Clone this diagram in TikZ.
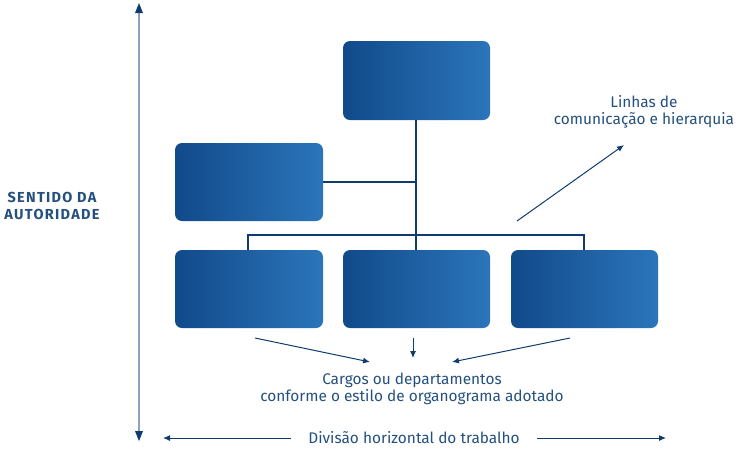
\documentclass[tikz,border=0pt]{standalone}
\usepackage{fontspec}
\setmainfont{Fira Sans}
\usetikzlibrary{arrows.meta}
\definecolor{boxL}{HTML}{114A8A}
\definecolor{boxR}{HTML}{2B75BA}
\definecolor{navy}{HTML}{0E3C6E}
\definecolor{txt}{HTML}{24507F}
\definecolor{axis}{HTML}{8AA4C0}
\tikzset{
  orgbox/.style={rounded corners=7pt, left color=boxL, right color=boxR, draw=none},
  conn/.style={draw=navy, line width=2.6pt},
  lbl/.style={text=txt, font=\fontsize{15.4}{17}\selectfont, align=center, inner sep=0pt},
  thinarrow/.style={draw=navy, line width=1pt, -{Latex[length=7pt,width=6pt]}},
}
\begin{document}
\begin{tikzpicture}[x=1pt,y=-1pt]
\useasboundingbox (0,0) rectangle (739,451);
% boxes
\path[orgbox] (343,41) rectangle (490,120);
\path[orgbox] (175,143) rectangle (323,221);
\path[orgbox] (175,250) rectangle (323,328);
\path[orgbox] (343,250) rectangle (490,328);
\path[orgbox] (511,250) rectangle (658,328);
\coordinate (topb) at (416,120);
\coordinate (midb) at (416,250);
\coordinate (lb) at (323,182);
\coordinate (lj) at (416,182);
\coordinate (hl) at (248,235);
\coordinate (hr) at (584,235);
\coordinate (b1) at (248,250);
\coordinate (b3) at (584,250);
% connectors
\draw[conn] (topb) -- (midb);
\draw[conn] (lb) -- (lj);
\draw[conn, line cap=butt] (b1) -- (hl) -- (hr) -- (b3);
% axes
\coordinate (vb) at (139,441);
\coordinate (vt) at (139,3);
\draw[draw=axis, line width=1.6pt] (139,434) -- (139,10);
\fill[navy] (vt) -- (135,13) -- (143,13) -- cycle;
\fill[navy] (vb) -- (135,431) -- (143,431) -- cycle;
\node[lbl, font={\fontsize{14.5}{17}\selectfont\bfseries\addfontfeatures{LetterSpace=9}}] (aut) at (52,205.5) {SENTIDO DA\\AUTORIDADE};
\node[lbl] (div) at (414,438) {Divisão horizontal do trabalho};
\coordinate (hL) at (163,438);
\coordinate (hR) at (666,438);
\draw[thinarrow] ([xshift=-17pt]div.west) -- (hL);
\draw[thinarrow] ([xshift=17pt]div.east) -- (hR);
% captions
\node[lbl] (cargos) at (412,388.5) {Cargos ou departamentos\\conforme o estilo de organograma adotado};
\coordinate (a1) at (255,338);
\coordinate (a2) at (413,338);
\coordinate (a3) at (570,338);
\draw[thinarrow] (a1) -- (370,362);
\draw[thinarrow] (a2) -- (413,358);
\draw[thinarrow] (a3) -- (452,362);
\node[lbl] (linhas) at (644,111.5) {Linhas de\\comunicação e hierarquia};
\coordinate (d1) at (517,221);
\draw[thinarrow] (d1) -- (624,145);
\end{tikzpicture}
\end{document}
